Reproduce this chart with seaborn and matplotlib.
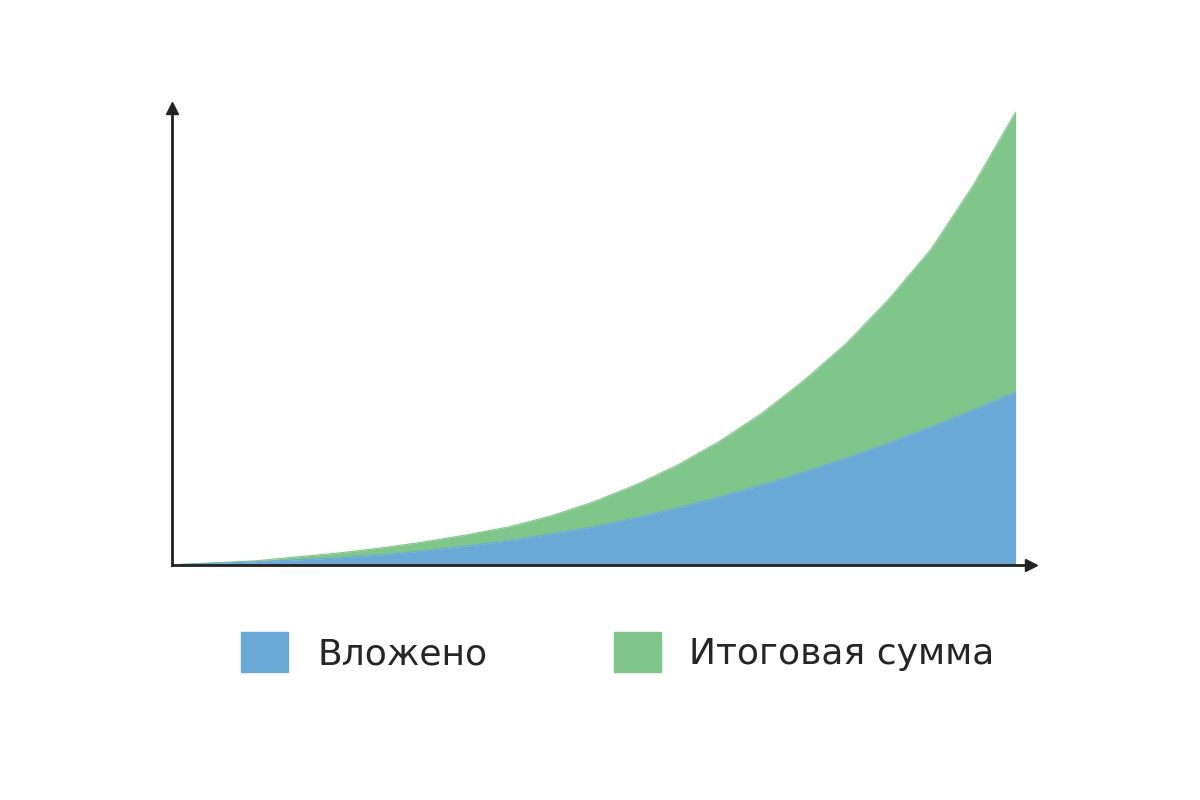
import matplotlib
matplotlib.use("Agg")
import matplotlib.pyplot as plt
import seaborn as sns
import numpy as np
import pandas as pd
from matplotlib.patches import Patch

years = [0, 0.5, 1, 1.5, 2, 2.5, 3, 3.5, 4, 4.5, 5, 5.5, 6, 6.5, 7, 7.5, 8, 8.5, 9, 9.5, 10]
invested = [0, 1.5, 3, 5, 7, 10, 14, 19, 24, 31, 38, 47, 57, 68, 80, 93, 107, 122, 138, 155, 173]
total = [0, 2, 4, 8, 12, 17, 23, 30, 38, 49, 63, 80, 100, 124, 152, 185, 222, 266, 316, 380, 453]
labels = ["Вложено", "Итоговая сумма"]
blue = "#6aa9d6"
green = "#80c68b"

sns.set_theme(style="white")
plt.rcParams['font.family'] = ['DejaVu Sans']
df = pd.DataFrame({"x": years, "inv": invested, "tot": total})

fig = plt.figure(figsize=(12, 8), dpi=100)
ax = fig.add_axes([0.143, 0.294, 0.716, 0.571])
sns.lineplot(data=df, x="x", y="tot", ax=ax, color=green, lw=0.8)
sns.lineplot(data=df, x="x", y="inv", ax=ax, color=blue, lw=0.8)
ax.fill_between(df.x, df.inv, df.tot, color=green, lw=0)
ax.fill_between(df.x, 0, df.inv, color=blue, lw=0)
ax.set_xlim(0, 10.18)
ax.set_ylim(0, 457)
for s in ["top", "right"]:
    ax.spines[s].set_visible(False)
for s in ["left", "bottom"]:
    ax.spines[s].set_color("#222222")
    ax.spines[s].set_linewidth(2)
ax.set_xticks([]); ax.set_yticks([])
ax.set_xlabel(""); ax.set_ylabel("")
ax.plot(1, 0, ">", color="#222222", ms=9, transform=ax.transAxes, clip_on=False)
ax.plot(0, 1, "^", color="#222222", ms=9, transform=ax.transAxes, clip_on=False)

handles = [Patch(facecolor=blue, edgecolor=blue), Patch(facecolor=green, edgecolor=green)]
fig.legend(handles, labels, loc="center", bbox_to_anchor=(0.515, 0.185), ncol=2,
           frameon=False, fontsize=26, handlelength=1.3, handleheight=1.3,
           columnspacing=3.5, handletextpad=0.8)
fig.savefig("out.png", dpi=100)
